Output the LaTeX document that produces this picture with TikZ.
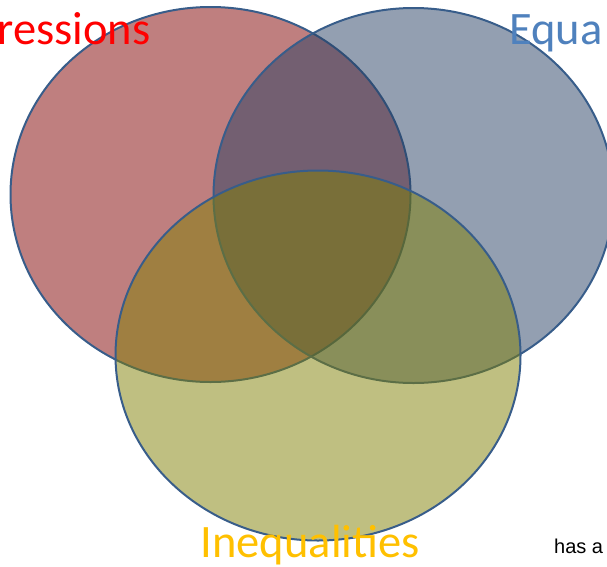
\documentclass[tikz,border=0pt]{standalone}
\usepackage{fontspec}
\setmainfont{Carlito}
\newfontfamily\notefont{Liberation Sans}
\usetikzlibrary{shapes.geometric}
\definecolor{setred}{RGB}{128,0,0}
\definecolor{setblue}{RGB}{40,64,100}
\definecolor{setolive}{RGB}{128,128,4}
\definecolor{rim}{RGB}{56,93,138}
\definecolor{lblred}{RGB}{255,0,0}
\definecolor{lblblue}{RGB}{79,129,189}
\definecolor{lblgold}{RGB}{255,192,0}
\begin{document}
\begin{tikzpicture}[x=1pt,y=-1pt,
  setshape/.style={ellipse, inner sep=0pt, draw=rim, line width=2pt,
    fill opacity=0.5, draw opacity=1,
    minimum width=400pt, minimum height=375pt},
  biglabel/.style={anchor=base west, inner sep=0pt,
    font=\fontsize{46.5}{56}\selectfont}]
  \useasboundingbox (0,0) rectangle (607,566);
  \clip (0,0) rectangle (607,566);
  % the three sets, drawn in order so later fills tint earlier outlines
  \node[setshape, fill=setred]   (expr) at (210.5,194.5) {};
  \node[setshape, fill=setblue]  (equa) at (413.5,195.5) {};
  \node[setshape, fill=setolive, minimum width=405pt, minimum height=370pt]
    (ineq) at (318,355.5) {};
  % set labels
  \node[biglabel, text=lblred]  (lexpr) at (-2.5,44) {ressions};
  \node[biglabel, text=lblblue] (lequa) at (509,44) {Equa};
  \node[biglabel, text=lblgold] (lineq) at (200.5,557) {Inequalities};
  \node[anchor=base west, inner sep=0pt, font=\notefont\fontsize{20}{24}\selectfont]
    (note) at (554,553) {has a};
\end{tikzpicture}
\end{document}
